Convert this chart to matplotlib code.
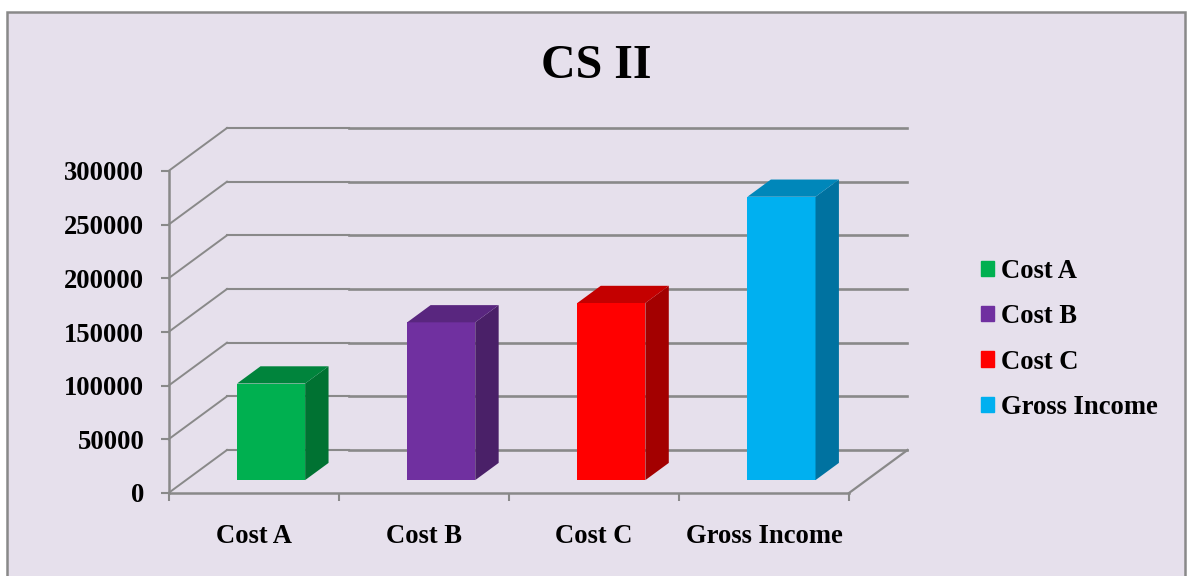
import matplotlib
matplotlib.use("Agg")
import matplotlib.pyplot as plt
from matplotlib.patches import Rectangle

# Chart data
categories = ["Cost A", "Cost B", "Cost C", "Gross Income"]
values = [90000, 147000, 165000, 264000]
y_ticks = [0, 50000, 100000, 150000, 200000, 250000, 300000]

# Colours for front, side and top of each bar
front_colors = ["#00B050", "#7030A0", "#FF0000", "#00B0F0"]
side_colors = ["#007232", "#4A2068", "#A30000", "#0072A0"]
top_colors = ["#00843C", "#59267F", "#C40000", "#0087BA"]
line_color = "#898989"

plt.rcParams["font.family"] = ["Liberation Serif", "DejaVu Serif"]
plt.rcParams["font.weight"] = "bold"

W, H = 1187, 576
fig = plt.figure(figsize=(W / 100, H / 100), dpi=100, facecolor="white")

# Chart background panel (bottom edge runs off the picture)
fig.add_artist(Rectangle((6.5 / W, -0.05), (1185 - 6.5) / W, 0.05 + (H - 12.5) / H,
                         transform=fig.transFigure, facecolor="#E6E0EC",
                         edgecolor=line_color, linewidth=1.8, zorder=-1))

# Axes cover the front plane of the 3D box
left, right, top, bottom = 168.5, 849, 171, 493
ax = fig.add_axes([left / W, (H - bottom) / H, (right - left) / W, (bottom - top) / H])
ax.patch.set_alpha(0)
ax.set_xlim(0, len(categories))
ax.set_ylim(0, 300000)

# Depth of the box in data units
px_x = len(categories) / (right - left)
px_y = 300000 / (bottom - top)
depth_x = 58.5 * px_x
depth_y = 43 * px_y
split_x = (349 - 168.5) * px_x

# Walls and gridlines
for t in y_ticks:
    ax.plot([0, depth_x], [t, t + depth_y], color=line_color, lw=1.4, clip_on=False, zorder=1)
    ax.plot([depth_x, split_x], [t + depth_y, t + depth_y], color=line_color, lw=1.5,
            clip_on=False, zorder=1)
    ax.plot([split_x, len(categories) + depth_x], [t + depth_y, t + depth_y], color=line_color,
            lw=1.9, clip_on=False, zorder=1)
ax.plot([len(categories), len(categories) + depth_x], [0, depth_y], color=line_color, lw=1.6,
        clip_on=False, zorder=1)

# Bars: front face through bar(), side and top from the same values
bar_w = 0.4
start = 0.3
thick = 0.4
xs = [i + 0.5 + start * depth_x for i in range(len(categories))]
base = start * depth_y
ax.bar(xs, values, width=bar_w, bottom=base, color=front_colors, zorder=3, label="_nolegend_")
for i, v in enumerate(values):
    x0 = xs[i] - bar_w / 2
    x1 = xs[i] + bar_w / 2
    y1 = base + v
    dx = thick * depth_x
    dy = thick * depth_y
    ax.fill([x1, x1 + dx, x1 + dx, x1], [base, base + dy, y1 + dy, y1], color=side_colors[i],
            lw=0, clip_on=False, zorder=3)
    ax.fill([x0, x1, x1 + dx, x0 + dx], [y1, y1, y1 + dy, y1 + dy], color=top_colors[i],
            lw=0, clip_on=False, zorder=3)

# Axes lines and ticks
for s in ["top", "right"]:
    ax.spines[s].set_visible(False)
for s in ["left", "bottom"]:
    ax.spines[s].set_color(line_color)
    ax.spines[s].set_linewidth(1.8)

ax.set_yticks(y_ticks)
ax.set_yticklabels([str(t) for t in y_ticks])
ax.tick_params(axis="y", length=5.8, width=1.5, color=line_color, pad=11.5, labelsize=19.2)
ax.set_xticks(range(len(categories) + 1))
ax.set_xticklabels([])
ax.tick_params(axis="x", which="major", length=5.8, width=1.5, color=line_color)
ax.set_xticks([i + 0.5 for i in range(len(categories))], minor=True)
ax.set_xticklabels(categories, minor=True)
ax.tick_params(axis="x", which="minor", length=0, pad=22.5, labelsize=19.2)

fig.text(596 / W, (H - 66) / H, "CS II", fontsize=34.5, fontweight="bold",
         ha="center", va="center")

# Legend
handles = [Rectangle((0, 0), 1, 1, color=c) for c in front_colors]
fig.legend(handles, categories, loc="upper left", bbox_to_anchor=(981 / W, (H - 259) / H),
           frameon=False, fontsize=19.2, handlelength=0.5, handleheight=0.5,
           handletextpad=0.25, labelspacing=0.76, borderpad=0, borderaxespad=0)

fig.savefig("out.png", dpi=100)
